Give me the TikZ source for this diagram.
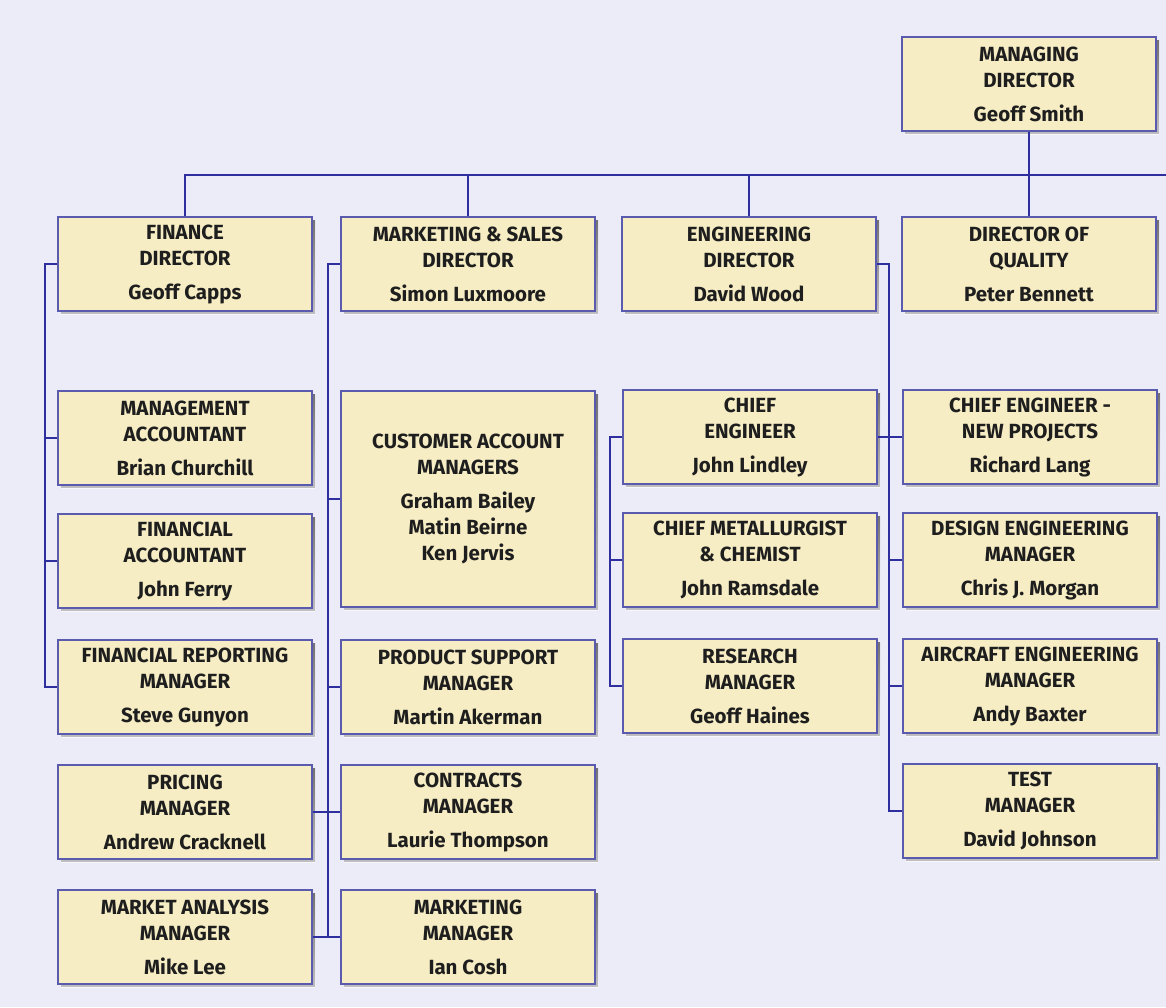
\documentclass[tikz,border=0pt]{standalone}
\usepackage{fontspec}
\setmainfont{Fira Sans}
\usetikzlibrary{calc}
\definecolor{bg}{HTML}{ECEBF8}
\definecolor{boxfill}{HTML}{F6EDC4}
\definecolor{boxline}{HTML}{5A5AAE}
\definecolor{conn}{HTML}{2E2E9E}
\definecolor{txt}{HTML}{1E1E1E}
\definecolor{shade}{HTML}{C8C8DC}
\tikzset{
  orgbox/.style={draw=boxline, line width=1.3pt, fill=boxfill, minimum width=254pt, minimum height=94pt,
    inner sep=0pt, align=center, text=txt, font=\fontsize{20.5}{26}\selectfont\bfseries},
  link/.style={draw=conn, line width=2.3pt},
}
\newcommand{\gapline}{\\[8pt]}
\begin{document}
\begin{tikzpicture}[x=1pt,y=-1pt]
\fill[bg] (0,0) rectangle (1166,1007);
\useasboundingbox (0,0) rectangle (1166,1007);

% shadows
\foreach \cx/\cy/\h in {1029/84/94, 185/264/94, 468/264/94, 749/264/94, 1029/264/94,
  185/438/94, 185/561/94, 185/687/94, 185/812/94, 185/937/94,
  468/499/216, 468/687/94, 468/812/94, 468/937/94,
  750/437/94, 750/560/94, 750/686/94,
  1030/437/94, 1030/560/94, 1030/686/94, 1030/811/94}
  \fill[shade, opacity=0.6] (\cx-127+3,\cy-\h/2+3) rectangle (\cx+127+3,\cy+\h/2+3);

% nodes
\node[orgbox] (md) at (1029,84) {MANAGING\\DIRECTOR\gapline Geoff Smith};
\node[orgbox] (fd) at (185,264) {FINANCE\\DIRECTOR\gapline Geoff Capps};
\node[orgbox] (msd) at (468,264) {MARKETING \& SALES\\DIRECTOR\gapline Simon Luxmoore};
\node[orgbox] (ed) at (749,264) {ENGINEERING\\DIRECTOR\gapline David Wood};
\node[orgbox] (dq) at (1029,264) {DIRECTOR OF\\QUALITY\gapline Peter Bennett};

\node[orgbox] (mac) at (185,438) {MANAGEMENT\\ACCOUNTANT\gapline Brian Churchill};
\node[orgbox] (fac) at (185,561) {FINANCIAL\\ACCOUNTANT\gapline John Ferry};
\node[orgbox] (frm) at (185,687) {FINANCIAL REPORTING\\MANAGER\gapline Steve Gunyon};
\node[orgbox] (pm) at (185,812) {PRICING\\MANAGER\gapline Andrew Cracknell};
\node[orgbox] (mam) at (185,937) {MARKET ANALYSIS\\MANAGER\gapline Mike Lee};

\node[orgbox, minimum height=216pt] (cam) at (468,499) {CUSTOMER ACCOUNT\\MANAGERS\gapline Graham Bailey\\Matin Beirne\\Ken Jervis};
\node[orgbox] (psm) at (468,687) {PRODUCT SUPPORT\\MANAGER\gapline Martin Akerman};
\node[orgbox] (cm) at (468,812) {CONTRACTS\\MANAGER\gapline Laurie Thompson};
\node[orgbox] (mm) at (468,937) {MARKETING\\MANAGER\gapline Ian Cosh};

\node[orgbox] (ce) at (750,437) {CHIEF\\ENGINEER\gapline John Lindley};
\node[orgbox] (cmc) at (750,560) {CHIEF METALLURGIST\\\& CHEMIST\gapline John Ramsdale};
\node[orgbox] (rm) at (750,686) {RESEARCH\\MANAGER\gapline Geoff Haines};

\node[orgbox] (cenp) at (1030,437) {CHIEF ENGINEER -\\NEW PROJECTS\gapline Richard Lang};
\node[orgbox] (dem) at (1030,560) {DESIGN ENGINEERING\\MANAGER\gapline Chris J. Morgan};
\node[orgbox] (aem) at (1030,686) {AIRCRAFT ENGINEERING\\MANAGER\gapline Andy Baxter};
\node[orgbox] (tm) at (1030,811) {TEST\\MANAGER\gapline David Johnson};

% bus coordinates
\coordinate (busR) at (1166,175);
\coordinate (fb) at (45,0);
\coordinate (mb) at (328,0);
\coordinate (lb) at (610,0);
\coordinate (eb) at (889,0);

% top level
\draw[link] (md.south) -- (dq.north);
\draw[link] (fd.north) |- (busR);
\draw[link] (msd.north) -- (msd.north |- busR);
\draw[link] (ed.north) -- (ed.north |- busR);

% finance
\draw[link] (fd.west) -- (fd.west -| fb) |- (frm.west);
\draw[link] (mac.west -| fb) -- (mac.west);
\draw[link] (fac.west -| fb) -- (fac.west);

% marketing
\draw[link] (msd.west) -- (msd.west -| mb) |- (mm.west);
\draw[link] (cam.west -| mb) -- (cam.west);
\draw[link] (psm.west -| mb) -- (psm.west);
\draw[link] (pm.east) -- (cm.west);
\draw[link] (mam.east) -- (mm.west);

% engineering
\draw[link] (ed.east) -- (ed.east -| eb) |- (tm.west);
\draw[link] (ce.east) -- (cenp.west);
\draw[link] (dem.west -| eb) -- (dem.west);
\draw[link] (aem.west -| eb) -- (aem.west);
\draw[link] (ce.west) -- (ce.west -| lb) |- (rm.west);
\draw[link] (cmc.west -| lb) -- (cmc.west);
\end{tikzpicture}
\end{document}
